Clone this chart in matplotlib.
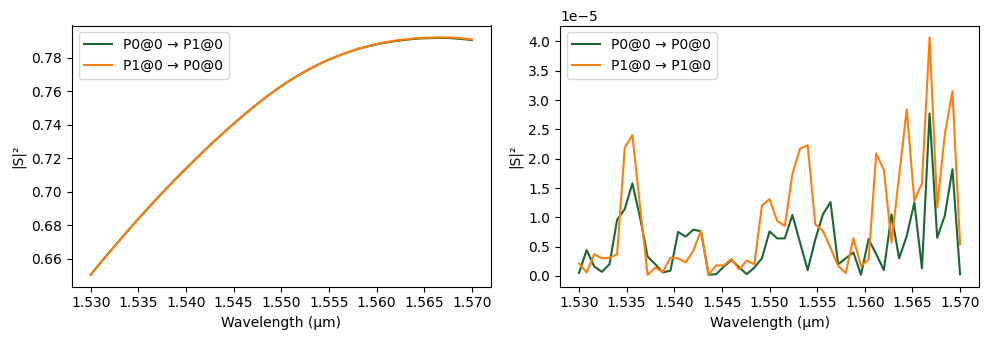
import numpy as np
import matplotlib
matplotlib.use("Agg")
import matplotlib.pyplot as plt

# Wavelength grid (µm), 51 samples from 1.530 to 1.570
wavelength = np.linspace(1.530, 1.570, 51)

# Transmission |S|^2 between the two ports
s_p0_p1 = [
    0.6504, 0.6560, 0.6614, 0.6668, 0.6721, 0.6773, 0.6825, 0.6875, 0.6925, 0.6974,
    0.7022, 0.7069, 0.7115, 0.7160, 0.7205, 0.7249, 0.7292, 0.7334, 0.7375, 0.7415,
    0.7454, 0.7492, 0.7529, 0.7564, 0.7598, 0.7630, 0.7660, 0.7688, 0.7714, 0.7739,
    0.7762, 0.7783, 0.7802, 0.7820, 0.7836, 0.7851, 0.7863, 0.7874, 0.7884, 0.7892,
    0.7899, 0.7905, 0.7910, 0.7914, 0.7916, 0.7917, 0.7918, 0.7917, 0.7914, 0.7910,
    0.7905,
]
s_p1_p0 = [
    0.6504, 0.6560, 0.6614, 0.6668, 0.6721, 0.6773, 0.6825, 0.6875, 0.6925, 0.6974,
    0.7022, 0.7069, 0.7115, 0.7160, 0.7205, 0.7249, 0.7292, 0.7334, 0.7375, 0.7415,
    0.7454, 0.7492, 0.7529, 0.7564, 0.7598, 0.7630, 0.7660, 0.7688, 0.7714, 0.7739,
    0.7762, 0.7783, 0.7802, 0.7820, 0.7836, 0.7852, 0.7864, 0.7876, 0.7886, 0.7895,
    0.7902, 0.7908, 0.7913, 0.7917, 0.7919, 0.7920, 0.7921, 0.7921, 0.7918, 0.7914,
    0.7909,
]

# Reflection |S|^2 at each port (units of 1e-5)
s_p0_p0 = [
    0.05, 0.44, 0.16, 0.07, 0.20, 0.96, 1.14, 1.58, 1.00, 0.33,
    0.20, 0.06, 0.09, 0.75, 0.67, 0.79, 0.76, 0.02, 0.03, 0.16,
    0.27, 0.15, 0.03, 0.14, 0.30, 0.76, 0.64, 0.64, 1.04, 0.57,
    0.10, 0.62, 1.05, 1.26, 0.20, 0.30, 0.40, 0.02, 0.63, 0.37,
    0.10, 1.05, 0.30, 0.68, 1.25, 0.13, 2.77, 0.65, 1.03, 1.82,
    0.03,
]
s_p1_p1 = [
    0.21, 0.06, 0.37, 0.30, 0.31, 0.37, 2.19, 2.40, 1.20, 0.02,
    0.14, 0.07, 0.31, 0.30, 0.23, 0.43, 0.77, 0.03, 0.18, 0.18,
    0.29, 0.11, 0.26, 0.20, 1.20, 1.31, 0.94, 0.85, 1.74, 2.17,
    2.23, 0.88, 0.77, 0.48, 0.17, 0.05, 0.64, 0.17, 0.28, 2.09,
    1.81, 0.57, 1.70, 2.84, 1.28, 1.58, 4.07, 1.17, 2.42, 3.15,
    0.54,
]

green = "#1a6632"
orange = "#ff7f0e"

fig, (ax1, ax2) = plt.subplots(1, 2, figsize=(9.9, 3.4), dpi=100)
fig.subplots_adjust(left=0.0724, right=0.989, bottom=0.157, top=0.925, wspace=0.165)

ax1.plot(wavelength, s_p0_p1, color=green, label="P0@0 → P1@0")
ax1.plot(wavelength, s_p1_p0, color=orange, label="P1@0 → P0@0")
ax1.set_xlabel("Wavelength (µm)")
ax1.set_ylabel("|S|²")
ax1.legend(loc="upper left")

ax2.plot(wavelength, np.array(s_p0_p0) * 1e-5, color=green, label="P0@0 → P0@0")
ax2.plot(wavelength, np.array(s_p1_p1) * 1e-5, color=orange, label="P1@0 → P1@0")
ax2.set_xlabel("Wavelength (µm)")
ax2.set_ylabel("|S|²")
ax2.legend(loc="upper left")

for ax in (ax1, ax2):
    ax.set_xticks(np.arange(1.530, 1.5701, 0.005))

fig.savefig("out.png", dpi=100)
